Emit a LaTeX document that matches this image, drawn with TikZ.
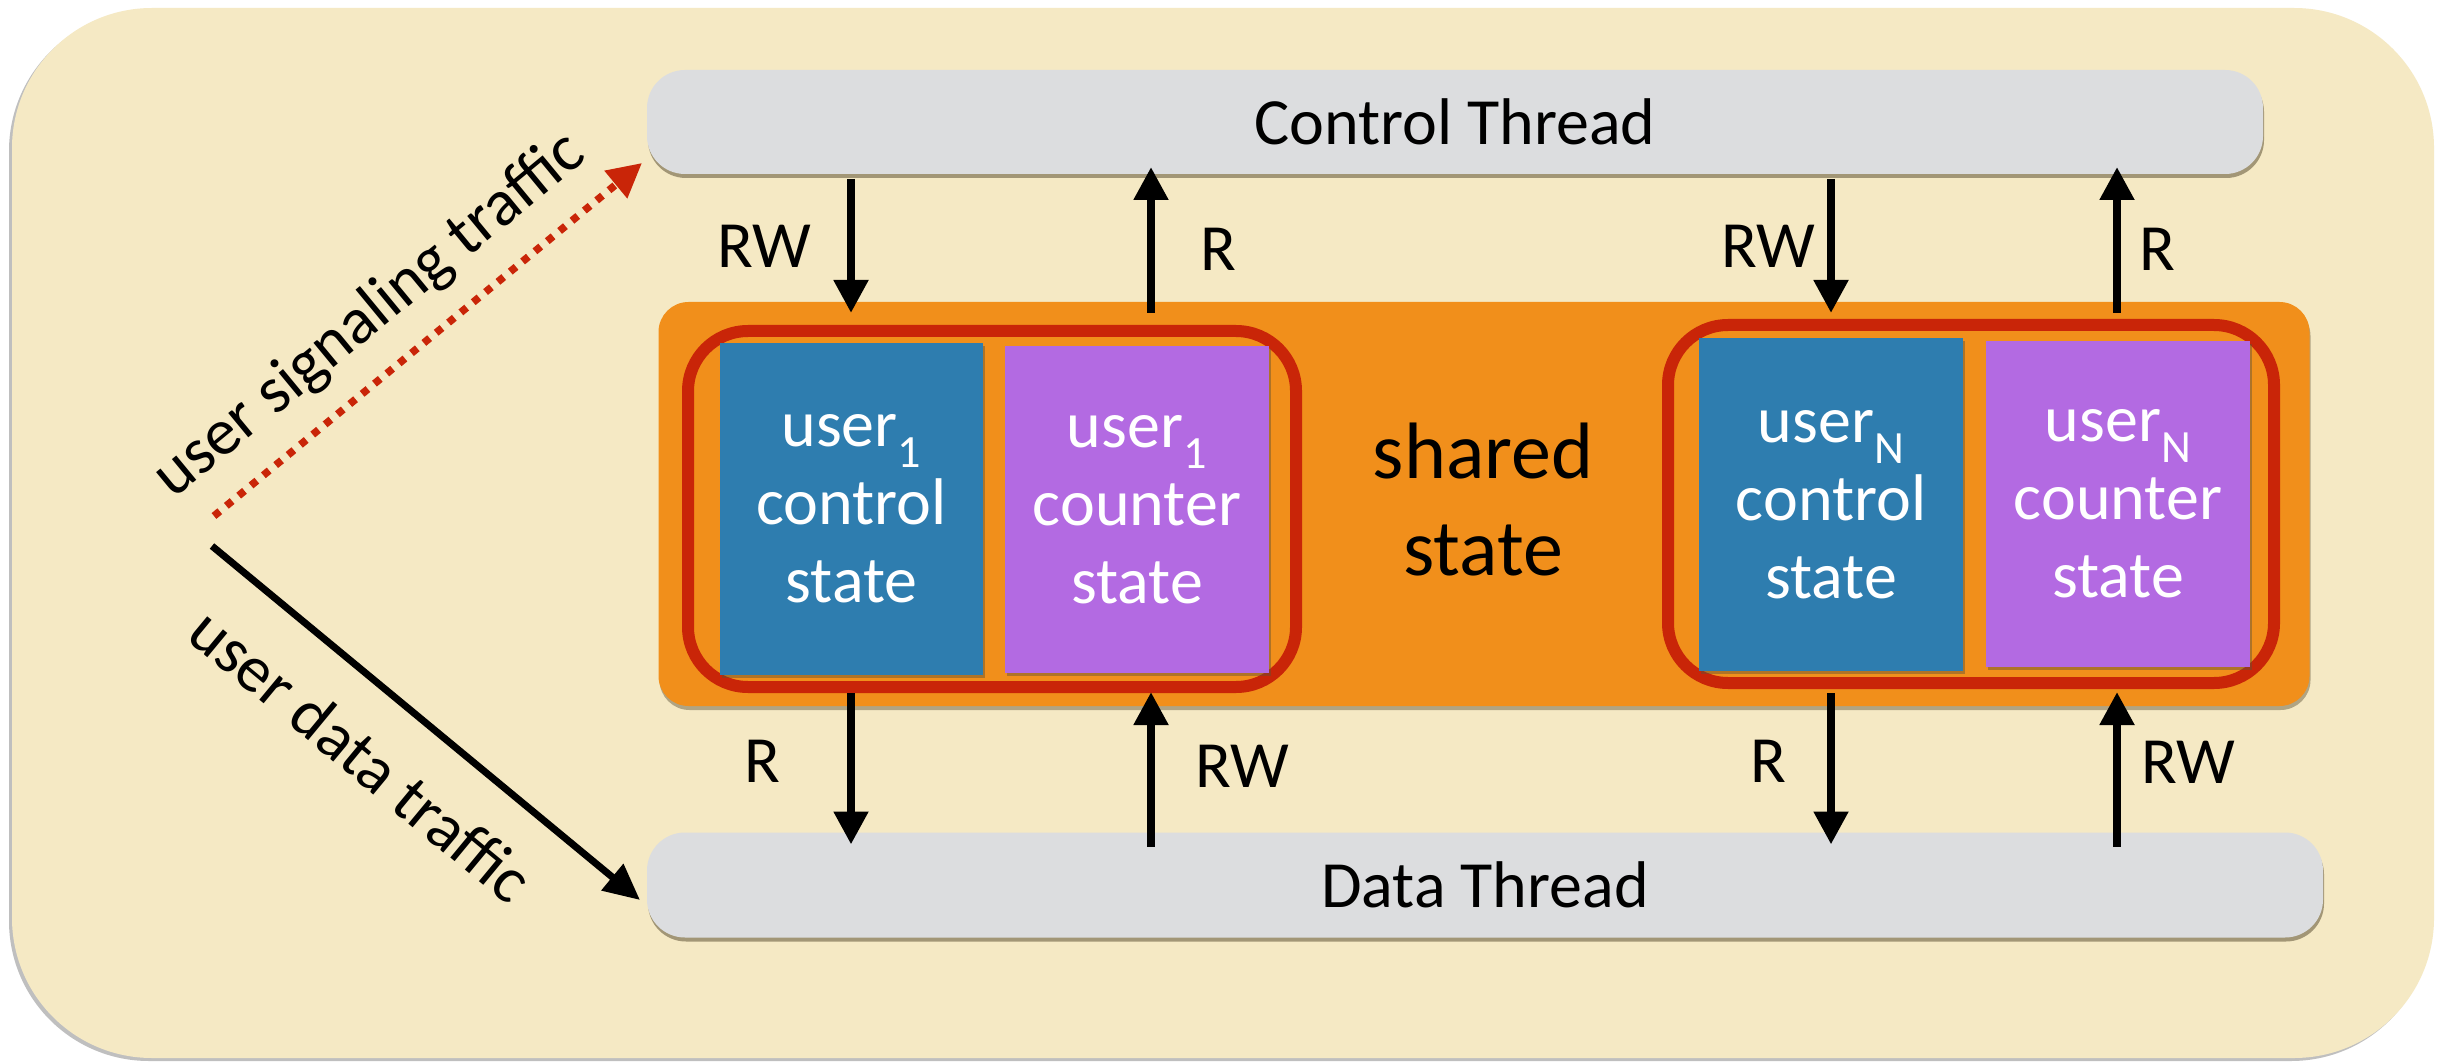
\documentclass[tikz,border=0pt]{standalone}
\usepackage{fontspec}
\setmainfont{Carlito}
\usetikzlibrary{arrows.meta,shadows}

\definecolor{cream}{HTML}{F5E9C4}
\definecolor{threadgray}{HTML}{DCDDDF}
\definecolor{sharedorange}{HTML}{F18F1B}
\definecolor{groupred}{HTML}{C92508}
\definecolor{ctlblue}{HTML}{2E7DAF}
\definecolor{cntpurple}{HTML}{B36AE2}
\definecolor{shadowbrown}{HTML}{5E5236}

\begin{document}
\begin{tikzpicture}[x=1pt,y=-1pt,
  every node/.style={inner sep=0pt, outer sep=0pt},
  labelfont/.style={font=\fontsize{66}{78}\selectfont},
  thread/.style={labelfont, fill=threadgray, rounded corners=38pt,
    drop shadow={shadow xshift=1pt, shadow yshift=-4pt, opacity=0.55, fill=shadowbrown}},
  sharedbox/.style={fill=sharedorange, rounded corners=30pt,
    drop shadow={shadow xshift=1pt, shadow yshift=-4pt, opacity=0.45, fill=shadowbrown}},
  usergroup/.style={draw=groupred, line width=12pt, rounded corners=60pt},
  statebox/.style={labelfont, text=white, align=center,
    drop shadow={shadow xshift=2pt, shadow yshift=-3pt, opacity=0.45, fill=shadowbrown}},
  ctlstate/.style={statebox, fill=ctlblue},
  cntstate/.style={statebox, fill=cntpurple},
  rw/.style={line width=8pt, -{Triangle[length=33pt,width=33pt]}},
  traffic/.style={line width=7pt, -{Triangle[length=36pt,width=33pt]}},
  signaling/.style={draw=groupred, line width=7.5pt, dash pattern=on 7.5pt off 8.5pt,
    -{Triangle[length=34pt,width=34pt]}, color=groupred},
  rwlabel/.style={labelfont},
]
% page and outer panel
\fill[white] (0,0) rectangle (2446,1064);
\useasboundingbox (0,0) rectangle (2446,1064);
\node[fill=cream, rounded corners=140pt, minimum width=2422pt, minimum height=1050pt,
  drop shadow={shadow xshift=-3pt, shadow yshift=-3pt, opacity=0.5, fill=gray}]
  (panel) at (1223,533) {};

% threads
\node[thread, minimum width=1616pt, minimum height=104pt] (ctrl) at (1455,122) {Control Thread};
\node[thread, minimum width=1676pt, minimum height=105pt] (data) at (1485,885) {Data Thread};

% shared state area
\node[sharedbox, minimum width=1651pt, minimum height=404pt] (shared) at (1484,504) {};
\node[font=\fontsize{80}{97}\selectfont, align=center] (sharedlabel) at (1483,500) {shared\\state};

% per-user groups
\node[usergroup, minimum width=608pt, minimum height=356pt] (grp1) at (992,509) {};
\node[usergroup, minimum width=606pt, minimum height=358pt] (grpN) at (1971,504) {};

\node[ctlstate, minimum width=263pt, minimum height=332pt] (ctl1) at (851.5,509)
  {user\textsubscript{1}\\control\\state};
\node[cntstate, minimum width=264pt, minimum height=327pt] (cnt1) at (1137,509.5)
  {user\textsubscript{1}\\counter\\state};
\node[ctlstate, minimum width=264pt, minimum height=333pt] (ctlN) at (1831,504.5)
  {user\textsubscript{N}\\control\\state};
\node[cntstate, minimum width=264pt, minimum height=326pt] (cntN) at (2118,504)
  {user\textsubscript{N}\\counter\\state};

% columns of the read/write arrows
\coordinate (colA) at (851,0);
\coordinate (colB) at (1151,0);
\coordinate (colC) at (1831,0);
\coordinate (colD) at (2117,0);

% control thread <-> shared state
\draw[rw, shorten <=5pt, shorten >=-11pt] (ctrl.south -| colA) -- (shared.north -| colA);
\draw[rw, shorten <=-11pt, shorten >=-7pt] (shared.north -| colB) -- (ctrl.south -| colB);
\draw[rw, shorten <=5pt, shorten >=-11pt] (ctrl.south -| colC) -- (shared.north -| colC);
\draw[rw, shorten <=-11pt, shorten >=-7pt] (shared.north -| colD) -- (ctrl.south -| colD);

% shared state <-> data thread
\draw[rw, shorten <=-13pt, shorten >=-12pt] (shared.south -| colA) -- (data.north -| colA);
\draw[rw, shorten <=-14pt, shorten >=-14pt] (data.north -| colB) -- (shared.south -| colB);
\draw[rw, shorten <=-13pt, shorten >=-12pt] (shared.south -| colC) -- (data.north -| colC);
\draw[rw, shorten <=-14pt, shorten >=-14pt] (data.north -| colD) -- (shared.south -| colD);

% access labels
\node[rwlabel] (lA1) at (764,246) {RW};
\node[rwlabel] (lB1) at (1218,249) {R};
\node[rwlabel] (lC1) at (1768,246) {RW};
\node[rwlabel] (lD1) at (2157,249) {R};
\node[rwlabel] (lA2) at (762,761) {R};
\node[rwlabel] (lB2) at (1242,766) {RW};
\node[rwlabel] (lC2) at (1768,761) {R};
\node[rwlabel] (lD2) at (2188,762) {RW};

% incoming user traffic
\coordinate (sigstart) at (214,516);
\coordinate (sigend) at ([shift={(-5pt,11pt)}]ctrl.south west);
\coordinate (datstart) at (212,546);
\coordinate (datend) at ([shift={(-7pt,-15pt)}]data.west);

\draw[signaling] (sigstart) -- (sigend);
\draw[traffic] (datstart) -- (datend);

\node[labelfont, rotate=39.5] (siglabel) at (370,316) {user signaling traffic};
\node[labelfont, rotate=-39.6] (datlabel) at (361,755) {user data traffic};
\end{tikzpicture}
\end{document}
